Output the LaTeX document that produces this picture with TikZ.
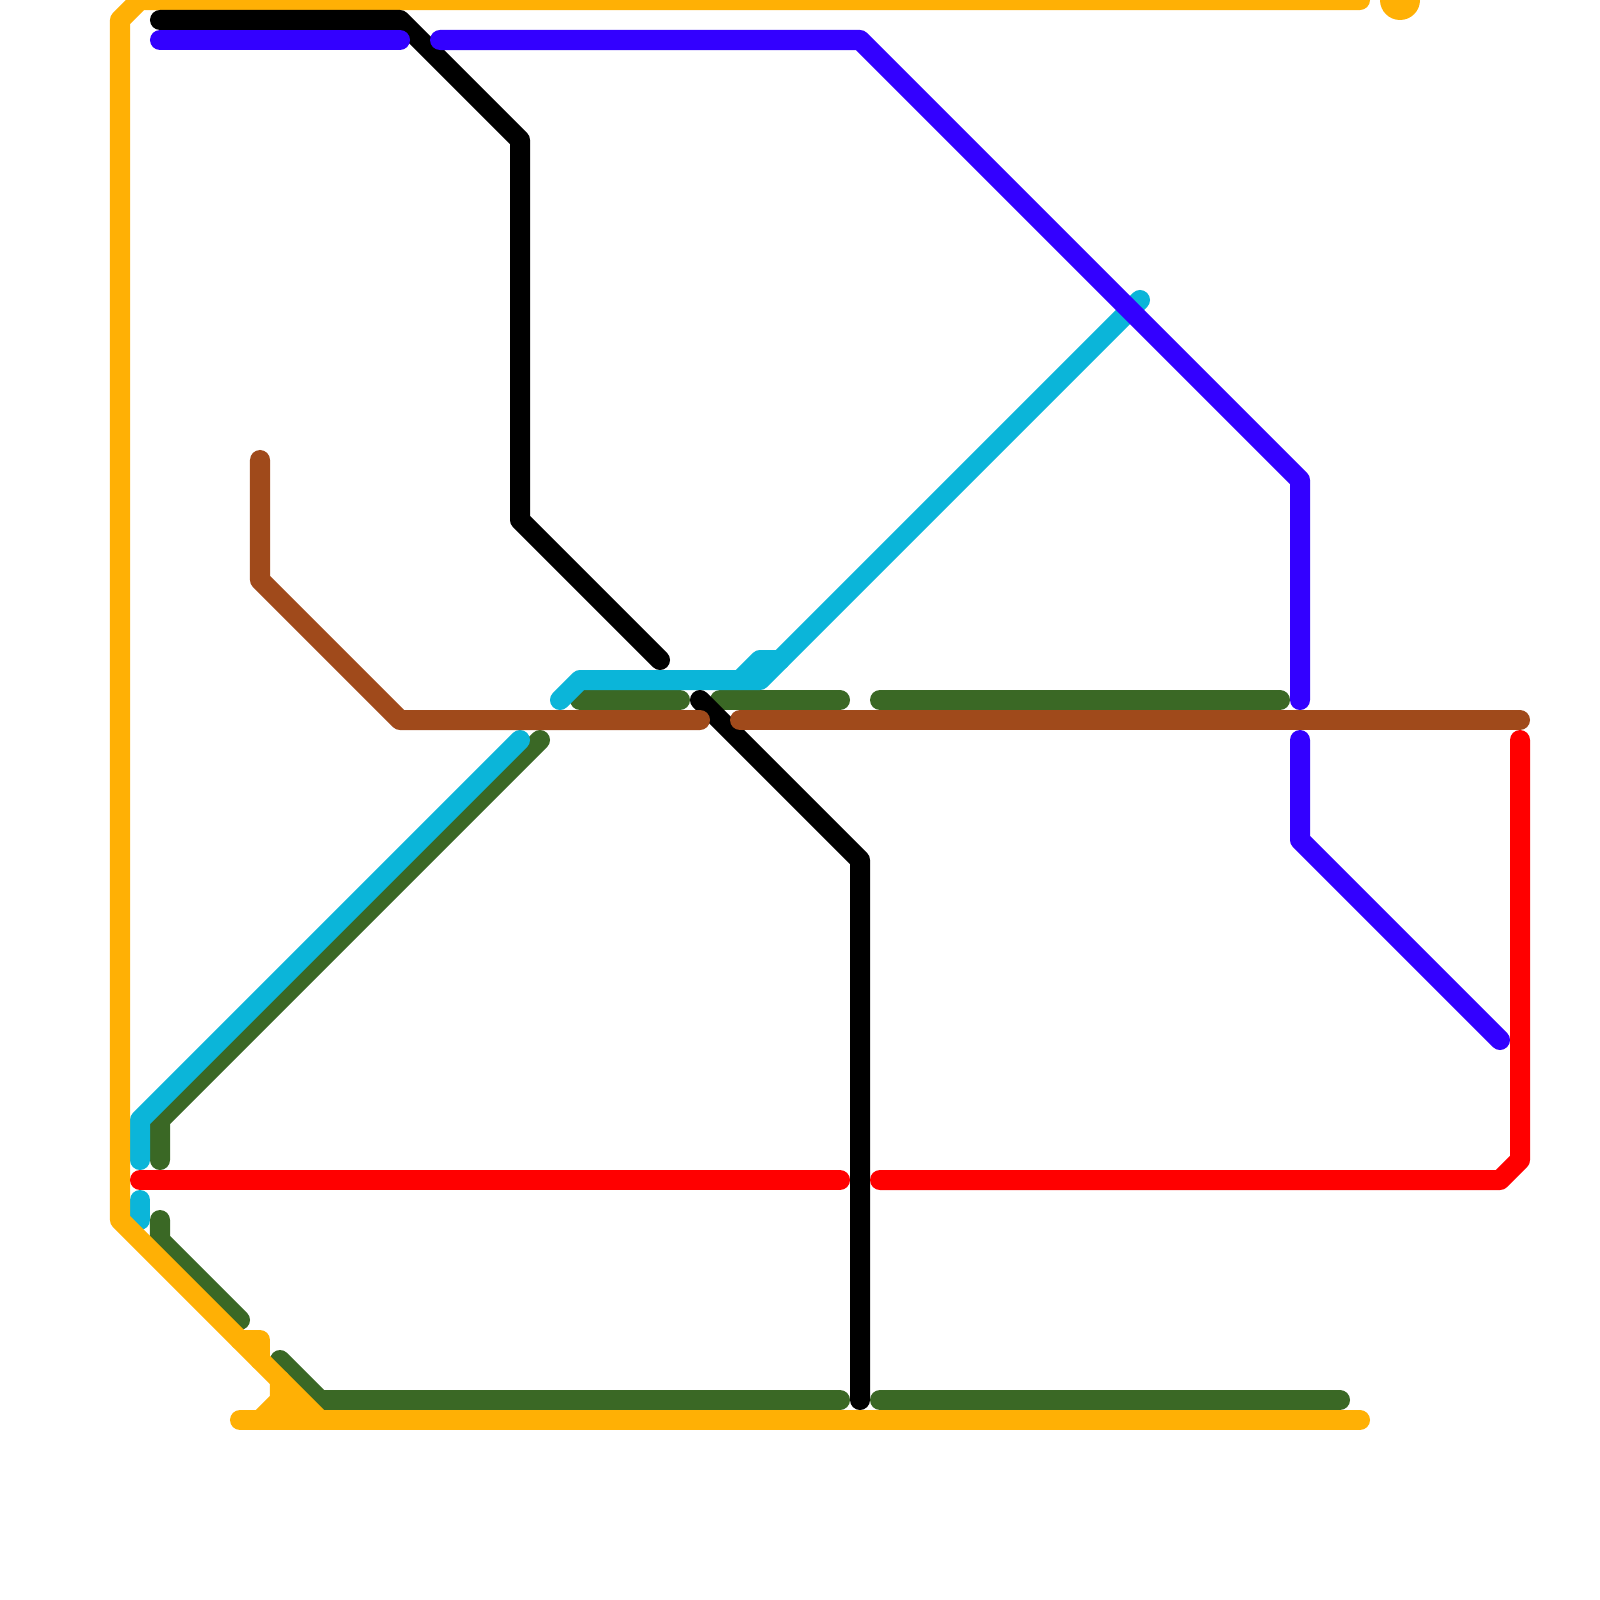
\documentclass[tikz,border=0pt]{standalone}
\definecolor{mOrange}{HTML}{FFB005}
\definecolor{mBlack}{HTML}{000000}
\definecolor{mBlue}{HTML}{3300FF}
\definecolor{mCyan}{HTML}{0BB5D9}
\definecolor{mGreen}{HTML}{3A6825}
\definecolor{mBrown}{HTML}{A04A1B}
\definecolor{mRed}{HTML}{FF0000}
\tikzset{
  metro/.style={line width=2mm,line cap=round,line join=round},
  orangeline/.style={metro,draw=mOrange},
  blackline/.style={metro,draw=mBlack},
  blueline/.style={metro,draw=mBlue},
  cyanline/.style={metro,draw=mCyan},
  greenline/.style={metro,draw=mGreen},
  brownline/.style={metro,draw=mBrown},
  redline/.style={metro,draw=mRed}
}
\begin{document}
\begin{tikzpicture}[x=0.01cm,y=-0.01cm]
\useasboundingbox (0,0) rectangle (1600,1600);
\clip (0,0) rectangle (1600,1600);
% green
\draw[greenline] (540,740) -- (160,1120) -- (160,1160);
\draw[greenline] (160,1220) -- (160,1240) -- (240,1320);
\draw[greenline] (280,1360) -- (320,1400) -- (840,1400);
\draw[greenline] (880,1400) -- (1340,1400);
\draw[greenline] (580,700) -- (680,700);
\draw[greenline] (720,700) -- (840,700);
\draw[greenline] (880,700) -- (1280,700);
% cyan
\draw[cyanline] (1140,300) -- (760,680) -- (580,680) -- (560,700);
\draw[cyanline] (740,680) -- (760,660) -- (780,660);
\draw[cyanline] (520,740) -- (140,1120) -- (140,1160);
\draw[cyanline] (140,1200) -- (140,1220);
% orange
\draw[orangeline] (1360,0) -- (140,0) -- (120,20) -- (120,1220) -- (320,1420);
\draw[orangeline] (240,1340) -- (260,1340) -- (260,1360);
\draw[orangeline] (280,1380) -- (280,1400) -- (260,1420);
\draw[orangeline] (280,1400) -- (300,1420);
\draw[orangeline] (240,1420) -- (1360,1420);
\fill[mOrange] (1400,0) circle (20);
% black
\draw[blackline] (160,20) -- (400,20) -- (520,140) -- (520,520) -- (660,660);
\draw[blackline] (700,700) -- (860,860) -- (860,1400);
% brown
\draw[brownline] (260,460) -- (260,580) -- (400,720) -- (700,720);
\draw[brownline] (740,720) -- (1520,720);
% blue
\draw[blueline] (160,40) -- (400,40);
\draw[blueline] (440,40) -- (860,40) -- (1300,480) -- (1300,700);
\draw[blueline] (1300,740) -- (1300,840) -- (1500,1040);
% red
\draw[redline] (140,1180) -- (840,1180);
\draw[redline] (880,1180) -- (1500,1180) -- (1520,1160) -- (1520,740);
\end{tikzpicture}
\end{document}
